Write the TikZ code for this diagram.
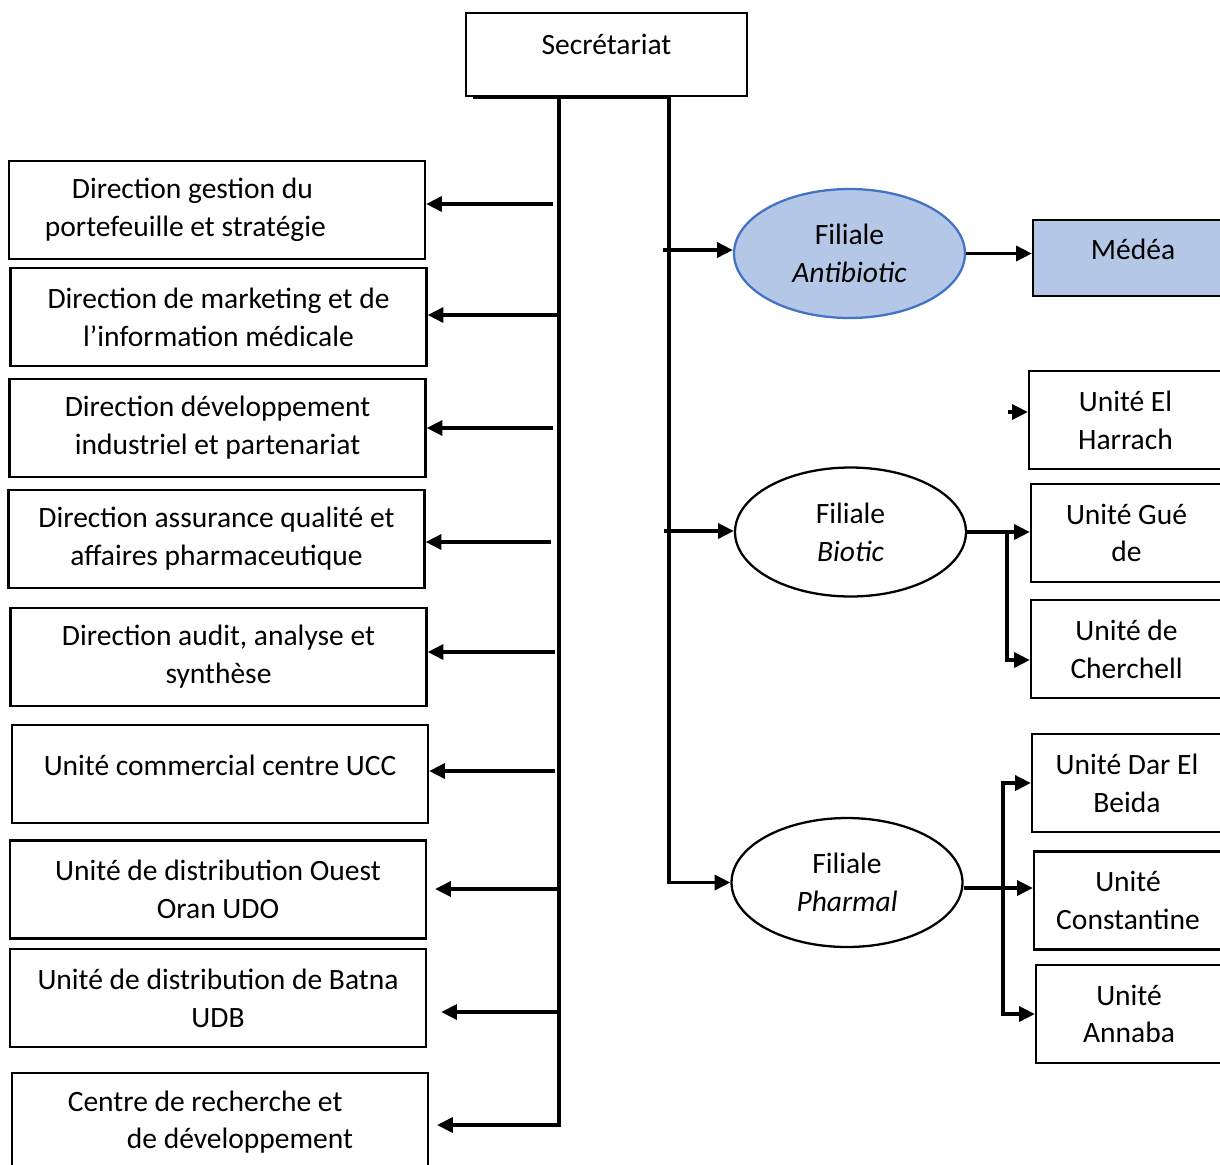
\documentclass[tikz,border=0pt]{standalone}
\usepackage{fontspec}
\setmainfont{Carlito}
\usepackage{tikz}
\usetikzlibrary{arrows.meta,shapes.geometric}
\definecolor{filblue}{HTML}{B4C7E7}
\definecolor{edgeblue}{HTML}{4472C4}
\newcommand\mainsize{\fontsize{16.8}{21.5}\selectfont}
\tikzset{
  unitbox/.style={draw, line width=1.3pt, minimum height=1.96cm, inner sep=0pt, align=center, font=\mainsize},
  dirbox/.style={unitbox, minimum width=8.32cm},
  filiale/.style={ellipse, draw, line width=1.3pt, minimum width=4.62cm, minimum height=2.58cm, inner sep=0pt, align=center, font=\mainsize},
  trunk/.style={line width=2.3pt},
  link/.style={line width=2pt, -{Triangle[length=9pt,width=8.5pt]}}
}

\begin{document}
\begin{tikzpicture}[x=0.02cm, y=-0.02cm]
\useasboundingbox (0,0) rectangle (1220,1164);
\node[unitbox, minimum width=5.62cm, minimum height=1.66cm](sec) at (606.5,54.5) {\raisebox{11.4pt}{Secrétariat}};
% directions
\node[dirbox](d1) at (217,210) {Direction gestion du\hspace*{28pt}\\ portefeuille et stratégie\hspace*{36pt}};
\node[dirbox](d2) at (218.5,317) {Direction de marketing et de\\ l’information médicale};
\node[dirbox](d3) at (217.5,428) {Direction développement\\ industriel et partenariat};
\node[dirbox](d4) at (216.5,539) {Direction assurance qualité et\\ affaires pharmaceutique};
\node[dirbox](d5) at (218.5,657) {Direction audit, analyse et\\ synthèse};
\node[dirbox](d6) at (220,774) {\raisebox{10.2pt}{Unité commercial centre UCC}};
\node[dirbox](d7) at (218,889.5) {Unité de distribution Ouest\\ Oran UDO};
\node[dirbox](d8) at (218,998) {Unité de distribution de Batna\\ UDB};
\node[dirbox](d9) at (220,1122) {Centre de recherche et\hspace*{17pt}\\ \hspace*{22.7pt}de développement};
% filiales
\node[filiale, fill=filblue, draw=edgeblue](anti) at (849.5,253.5) {Filiale\\ \textit{Antibiotic}};
\node[filiale](bio) at (850.5,532) {Filiale\\ \textit{Biotic}};
\node[filiale](pharm) at (847,882.5) {Filiale\\ \textit{Pharmal}};
% unites
\node[unitbox, fill=filblue, minimum width=4cm, minimum height=1.52cm](medea) at (1133,258) {\raisebox{10.2pt}{Médéa}};
\node[unitbox, minimum width=3.86cm](harrach) at (1125.5,420) {Unité El\\ Harrach};
\node[unitbox, minimum width=3.82cm](gue) at (1126.5,533) {Unité Gué\\ de};
\node[unitbox, minimum width=3.82cm](cher) at (1126.5,649) {Unité de\\ Cherchell};
\node[unitbox, minimum width=3.8cm](dar) at (1127,783) {Unité Dar El\\ Beida};
\node[unitbox, minimum width=3.76cm](const) at (1128,900.5) {Unité\\ Constantine};
\node[unitbox, minimum width=3.72cm](annaba) at (1129,1014) {Unité\\ Annaba};
% trunk
\coordinate (sb) at (473,97);
\coordinate (tl) at (559,97);
\coordinate (tr) at (669,97);
\coordinate (lend) at (559,1127);
\draw[trunk] (sb) -- (tr);
\draw[trunk] (tl) -- (lend);
\coordinate (l1) at (553,204);
\coordinate (l2) at (557,315);
\coordinate (l3) at (553,428);
\coordinate (l4) at (551,542);
\coordinate (l5) at (555,652);
\coordinate (l6) at (555,771);
\coordinate (l7) at (557,889);
\coordinate (l8) at (559,1012);
\coordinate (l9) at (559,1125);
\draw[link] (l1) -- (l1 -| d1.east);
\draw[link] (l2) -- (l2 -| d2.east);
\draw[link] (l3) -- (l3 -| d3.east);
\draw[link] (l4) -- (l4 -| d4.east);
\draw[link] (l5) -- (l5 -| d5.east);
\draw[link] (l6) -- (l6 -| d6.east);
\draw[link, shorten >=4.5pt] (l7) -- (l7 -| d7.east);
\draw[link, shorten >=8pt] (l8) -- (l8 -| d8.east);
\draw[link, shorten >=4.5pt] (l9) -- (l9 -| d9.east);
% right side
\coordinate (r1) at (663,250);
\coordinate (r2) at (664,531);
\draw[link] (tr) |- (pharm.west);
\draw[link] (r1) -- (r1 -| anti.west);
\draw[link] (r2) -- (r2 -| bio.west);
\draw[link] (anti.east) -- (anti.east -| medea.west);
\coordinate (h0) at (1008,412);
\draw[link] (h0) -- (h0 -| harrach.west);
\coordinate (bj) at (1007,534);
\draw[link] (bio.east) -- (bio.east -| gue.west);
\draw[link] (bj) |- ([yshift=-0.22cm]cher.west);
\coordinate (pj) at (1003,888);
\draw[link] (pharm.east |- pj) -- (pj -| const.west);
\draw[link] (pj) |- (dar.west);
\draw[link] (pj) |- (annaba.west);
\end{tikzpicture}
\end{document}
